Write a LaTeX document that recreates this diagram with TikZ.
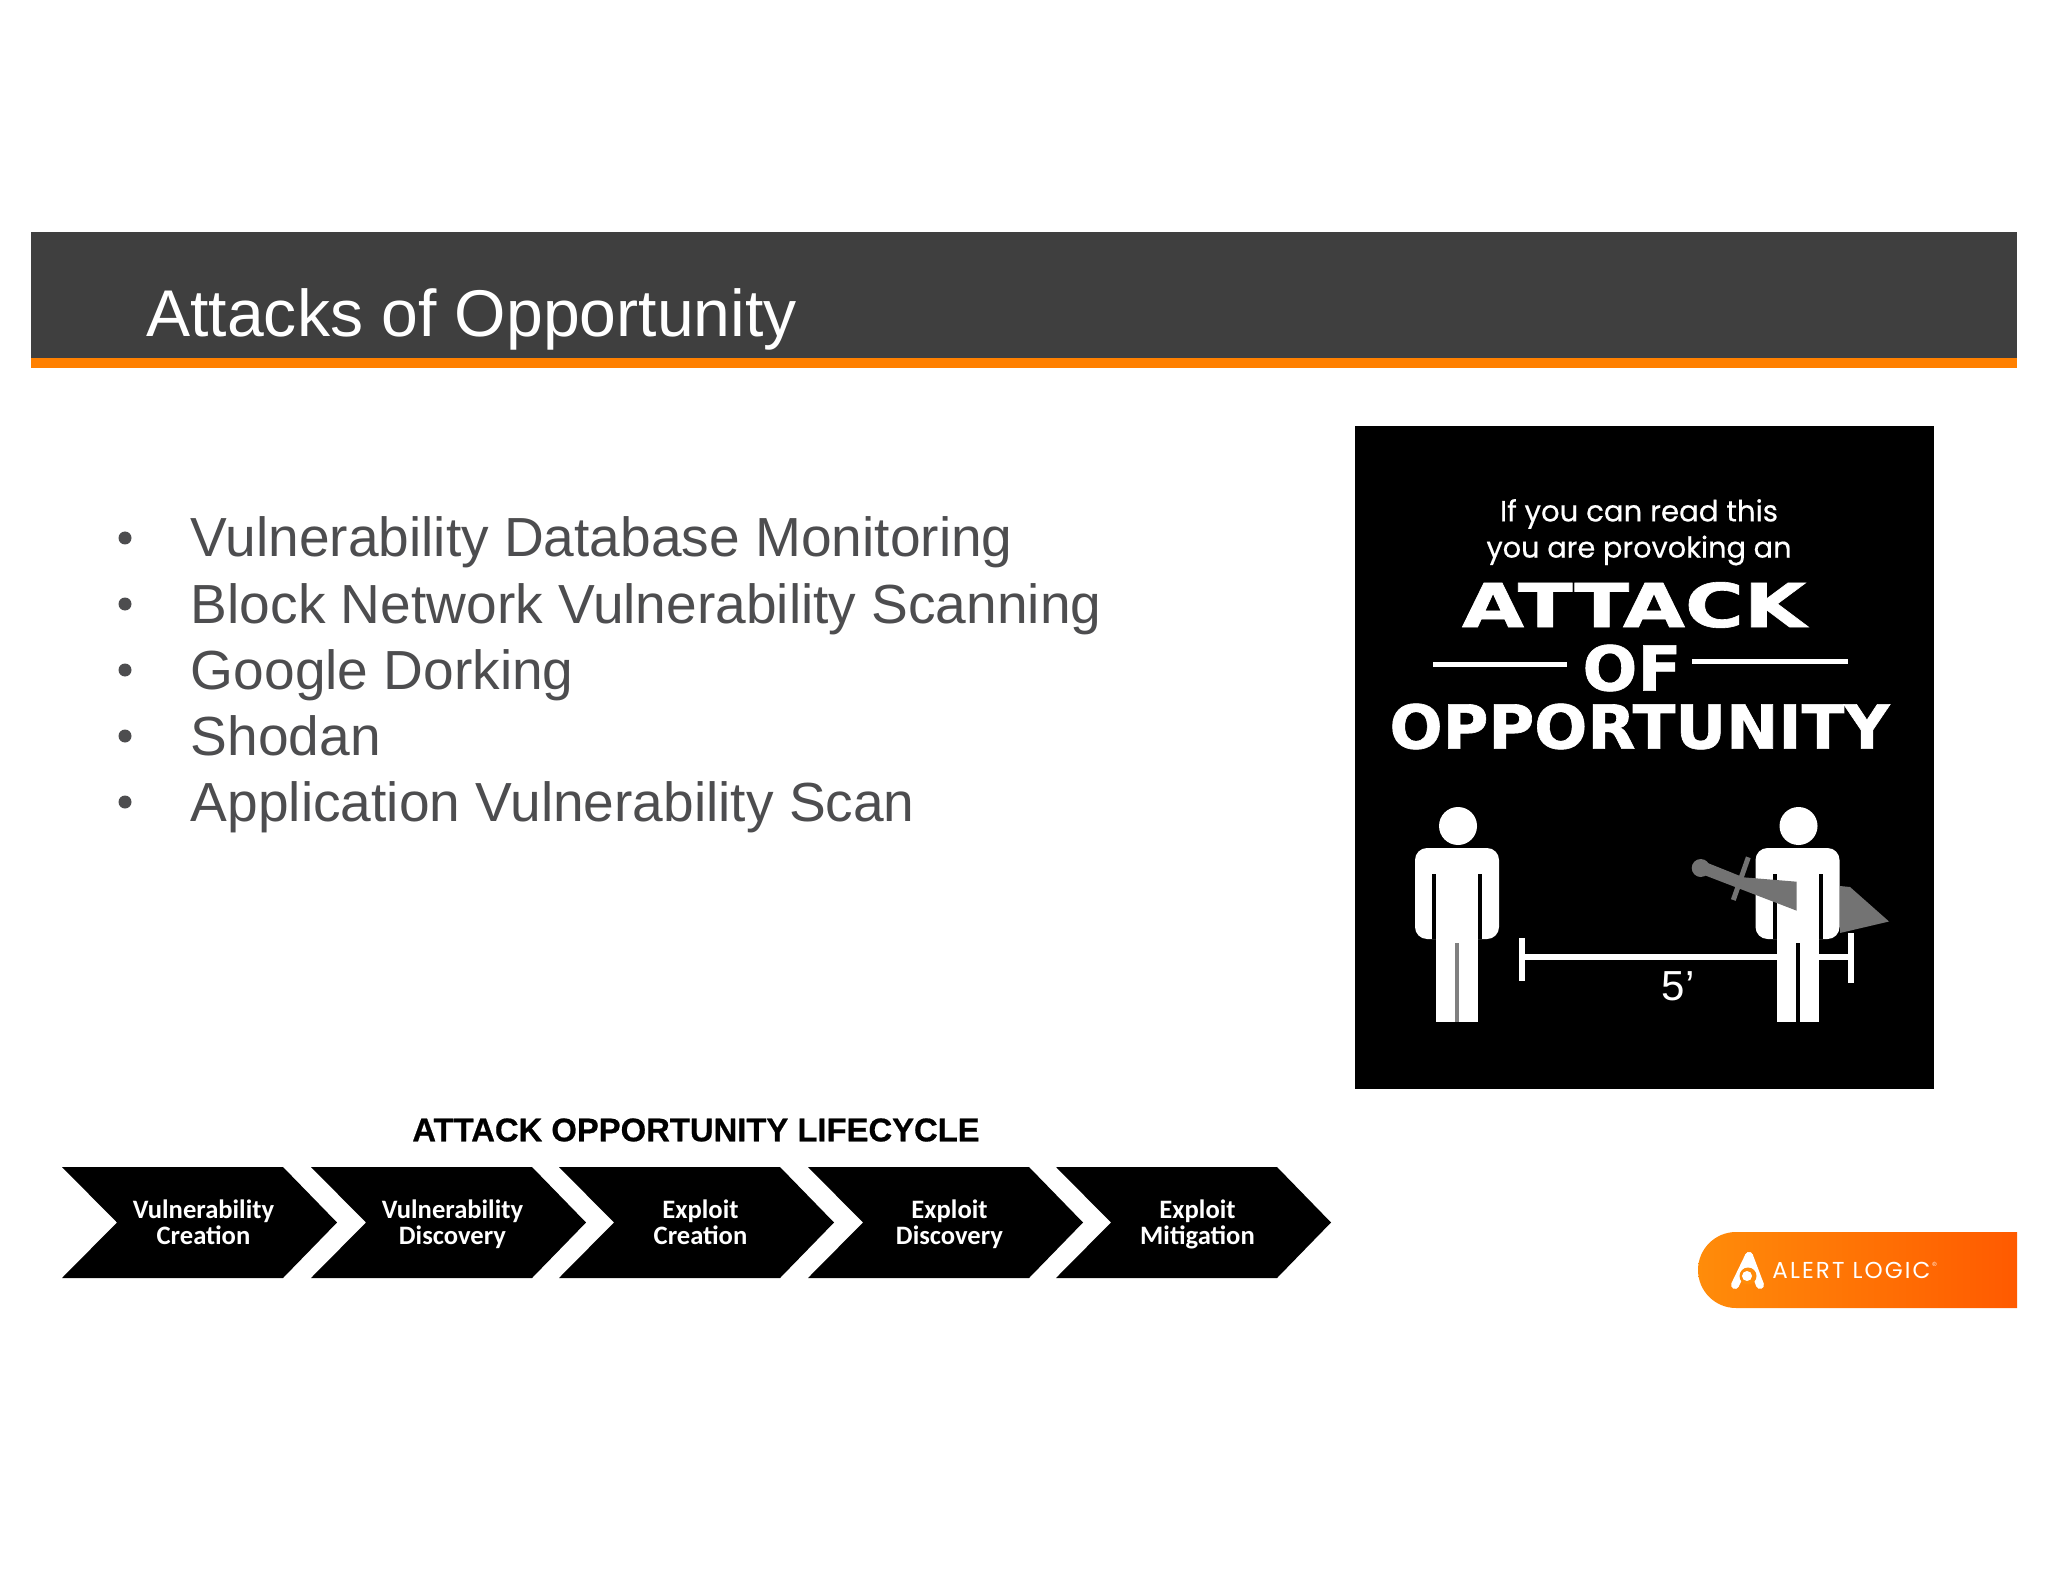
\documentclass[tikz,border=0pt]{standalone}
\usepackage{fontspec}
\usepackage{graphicx}
\setmainfont{Liberation Sans}
\newfontfamily\popfont[FakeBold=0.5]{Poppins}
\newfontfamily\logofont[LetterSpace=9]{Poppins}
\newfontfamily\djfont[BoldFeatures={FakeBold=1}]{DejaVu Sans}
\newfontfamily\calfont{Carlito}
\newfontfamily\headfont[BoldFeatures={FakeBold=0.6}]{Liberation Sans}
\usetikzlibrary{calc}
\definecolor{headdark}{HTML}{3F3F3F}
\definecolor{headorange}{HTML}{FF8000}
\definecolor{bodygrey}{HTML}{4D4D4F}
\definecolor{swordgrey}{HTML}{737373}
\definecolor{logoL}{HTML}{FF8C0A}
\definecolor{logoR}{HTML}{FF5A00}
\tikzset{
  pageunits/.style={x=0.5pt,y=-0.5pt},
  bullettext/.style={anchor=base west,inner sep=0pt,text=bodygrey,font=\fontsize{27.55}{27.55}\selectfont},
  chevtext/.style={anchor=center,inner sep=0pt,text=white,align=center,font=\calfont\fontsize{13.3}{13}\selectfont\bfseries},
  postertext/.style={anchor=center,inner sep=0pt,text=white},
}
\newcommand{\chev}[4]{%
  \fill[black] (#2,1167) -- ++(221,0) -- ++(54,55.5) -- ++(-54,55.5) -- ++(-221,0) -- ++(55,-55.5) -- cycle;
  \node[chevtext] (#1) at ($(#2,1224.5)+(141.5,0)$) {\vphantom{Vy}#3\\\vphantom{Cy}#4};
}
\newcommand{\person}[2]{%
  \begin{scope}[shift={(#1,0)}]
    \fill[white] (1,826) circle (19);
    \fill[white,rounded corners=6pt] (-42,939) -- (-42,848) -- (42,848) -- (42,939) -- cycle;
    \fill[white] (-21,930) rectangle (21,1022);
    \fill[black] (-25,874) rectangle (-21,939);
    \fill[black] (21,874) rectangle (25,939);
    \fill[#2] (-2,943) rectangle (2,1022);
  \end{scope}
}
\begin{document}
\begin{tikzpicture}[pageunits]
\useasboundingbox (0,0) rectangle (2048,1582);
\fill[white] (0,0) rectangle (2048,1582);
% header
\fill[headdark] (31,232.5) rectangle (2017,358);
\fill[headorange] (31,358) rectangle (2017,368);
\node[anchor=base west,inner sep=0pt,text=white,font=\fontsize{33.05}{33}\selectfont] (title) at (146,337) {Attacks of Opportunity};
% bullets
\node[bullettext] (b1) at (190.5,557) {Vulnerability Database Monitoring};
\node[bullettext] (b2) at (190.5,623) {Block Network Vulnerability Scanning};
\node[bullettext] (b3) at (190.5,689) {Google Dorking};
\node[bullettext] (b4) at (190.5,755) {Shodan};
\node[bullettext] (b5) at (190.5,821.5) {Application Vulnerability Scan};
\foreach \yy in {538,604,670,736,802} \fill[bodygrey] (125,\yy) circle (6.5);
% poster
\fill[black] (1354.5,426.5) rectangle (1934,1088.5);
\node[postertext] (p1) at (1639,514) {\resizebox{139pt}{!}{\popfont If you can read this}};
\node[postertext] (p2) at (1639,550.5) {\resizebox{152.5pt}{!}{\popfont you are provoking an}};
\node[postertext] (p3) at (1634,605) {\resizebox{172pt}{22.5pt}{\djfont\bfseries ATTACK}};
\node[postertext] (p4) at (1632,668) {\resizebox{49.5pt}{23pt}{\djfont\bfseries OF}};
\node[postertext] (p5) at (1639.5,726.5) {\resizebox{250pt}{22.5pt}{\djfont\bfseries OPPORTUNITY}};
\fill[white] (1433,661.5) rectangle (1567,666.5);
\fill[white] (1692,658.5) rectangle (1848,663.5);
% ruler
\fill[white] (1519,938) rectangle (1525,981);
\fill[white] (1848,933) rectangle (1854,983);
\fill[white] (1522,954) rectangle (1851,960);
\node[inner sep=0pt,text=white,font=\fontsize{21}{21}\selectfont] (dist) at (1678,986) {5’};
% figures
\person{1457}{gray}
\fill[swordgrey] (1840,886) -- (1850,887) -- (1889,921.5) -- (1840,933) -- cycle;
\person{1797.5}{black}
\fill[swordgrey] (1700.7,868) circle (9);
\fill[swordgrey] (1704,861.5) -- (1743.3,877.3) -- (1796.7,881.7) -- (1796.7,910.7) -- (1704,875) -- cycle;
\draw[swordgrey,line width=2.5pt] (1748.3,857.3) -- (1733.3,900);
% lifecycle
\node[inner sep=0pt,text=black,font=\headfont\fontsize{16.4}{16.4}\selectfont\bfseries] (life) at (696,1130) {ATTACK OPPORTUNITY LIFECYCLE};
\chev{c1}{62}{Vulnerability}{Creation}
\chev{c2}{311}{Vulnerability}{Discovery}
\chev{c3}{559}{Exploit}{Creation}
\chev{c4}{808}{Exploit}{Discovery}
\chev{c5}{1056}{Exploit}{Mitigation}
% logo
\shade[left color=logoL,right color=logoR] (2017,1232) -- (1736,1232) arc[start angle=270,end angle=90,radius=38] -- (2017,1308) -- cycle;
\draw[white,line width=4pt,line cap=round] (1749,1256) -- (1735,1285);
\draw[white,line width=4pt,line cap=round] (1749,1256) -- (1760,1285);
\fill[white] (1749,1252) -- (1759,1274) -- (1739,1274) -- cycle;
\fill[logoL] (1748,1276) circle (8.5);
\fill[white] (1747,1276) circle (5);
\node[inner sep=0pt,anchor=base west,text=white] (logo) at (1772,1278) {\resizebox{79pt}{!}{\logofont ALERT LOGIC}};
\node[inner sep=0pt,anchor=base west,text=white,font=\fontsize{3}{3}\selectfont] (reg) at (1932,1266) {®};
\end{tikzpicture}
\end{document}
